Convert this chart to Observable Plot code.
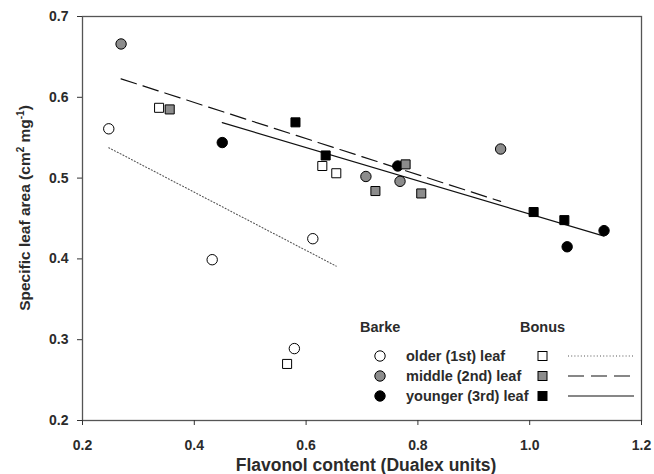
<!DOCTYPE html>
<html>
<head>
<meta charset="utf-8">
<script src="https://cdn.jsdelivr.net/npm/d3@7"></script>
<script src="https://cdn.jsdelivr.net/npm/@observablehq/plot@0.6"></script>
<style>
  body { margin: 0; background: #fff; }
  #chart svg { display: block; }
</style>
</head>
<body>
<div id="chart"></div>
<script>
// Leaf positions and cultivars
const leaves = ["older (1st) leaf", "middle (2nd) leaf", "younger (3rd) leaf"];
const cultivars = ["Barke", "Bonus"];

// Flavonol content (Dualex units) and specific leaf area (cm² mg⁻¹)
const barkeOlderX   = [0.247, 0.432, 0.579, 0.612];
const barkeOlderY   = [0.561, 0.399, 0.289, 0.425];
const bonusOlderX   = [0.337, 0.566, 0.629, 0.654];
const bonusOlderY   = [0.587, 0.270, 0.515, 0.506];
const barkeMiddleX  = [0.269, 0.707, 0.768, 0.948];
const barkeMiddleY  = [0.666, 0.502, 0.496, 0.536];
const bonusMiddleX  = [0.356, 0.724, 0.778, 0.806];
const bonusMiddleY  = [0.585, 0.484, 0.517, 0.481];
const barkeYoungerX = [0.450, 0.764, 1.067, 1.133];
const barkeYoungerY = [0.544, 0.515, 0.415, 0.435];
const bonusYoungerX = [0.581, 0.635, 1.007, 1.062];
const bonusYoungerY = [0.569, 0.528, 0.458, 0.448];

const xTicks = [0.2, 0.4, 0.6, 0.8, 1.0, 1.2];
const yTicks = [0.2, 0.3, 0.4, 0.5, 0.6, 0.7];

const series = [
  ["Barke", leaves[0], barkeOlderX, barkeOlderY],
  ["Bonus", leaves[0], bonusOlderX, bonusOlderY],
  ["Barke", leaves[1], barkeMiddleX, barkeMiddleY],
  ["Bonus", leaves[1], bonusMiddleX, bonusMiddleY],
  ["Barke", leaves[2], barkeYoungerX, barkeYoungerY],
  ["Bonus", leaves[2], bonusYoungerX, bonusYoungerY]
];
const rows = series.flatMap(([cultivar, leaf, xs, ys]) =>
  xs.map((x, i) => ({cultivar, leaf, x, y: ys[i]})));

const leafFill = {[leaves[0]]: "#ffffff", [leaves[1]]: "#8c8c8c", [leaves[2]]: "#000000"};
const leafDash = {[leaves[0]]: "1,2.2", [leaves[1]]: "16,7", [leaves[2]]: null};
const leafLineColor = {[leaves[0]]: "#555", [leaves[1]]: "#111", [leaves[2]]: "#111"};

const font = "'Liberation Sans', Arial, Helvetica, sans-serif";
const ink = "#2b2b2b";

// Least-squares fit per leaf position, pooled over both cultivars
const fits = leaves.map(leaf => Plot.linearRegressionY(rows.filter(d => d.leaf === leaf), {
  x: "x", y: "y", ci: 0,
  stroke: leafLineColor[leaf],
  strokeWidth: leaf === leaves[0] ? 1.1 : 1.2,
  strokeDasharray: leafDash[leaf]
}));

const chart = Plot.plot({
  width: 654,
  height: 474,
  marginLeft: 82,
  marginRight: 13,
  marginTop: 16,
  marginBottom: 54,
  style: {fontFamily: font, fontSize: "14px", fontWeight: "bold", color: ink, background: "#fff"},
  x: {domain: [0.2, 1.2]},
  y: {domain: [0.2, 0.7]},
  marks: [
    Plot.frame({stroke: "#555", strokeWidth: 1.3}),
    Plot.axisX({ticks: xTicks, tickFormat: d3.format(".1f"), tickSize: 5, tickPadding: 15, label: null, stroke: "#333"}),
    Plot.axisY({ticks: yTicks, tickFormat: d3.format(".1f"), tickSize: 5, tickPadding: 9, label: null, stroke: "#333"}),
    ...fits,
    Plot.dot(rows.filter(d => d.cultivar === "Barke"), {
      x: "x", y: "y", r: 5.2, symbol: "circle",
      fill: d => leafFill[d.leaf], stroke: "#000", strokeWidth: 1
    }),
    Plot.dot(rows.filter(d => d.cultivar === "Bonus"), {
      x: "x", y: "y", r: 5.1, symbol: "square",
      fill: d => leafFill[d.leaf], stroke: "#000", strokeWidth: 1
    })
  ]
});

document.getElementById("chart").appendChild(chart);

const svg = d3.select(chart);

// Axis titles
svg.append("text")
  .attr("x", 366).attr("y", 471)
  .attr("text-anchor", "middle")
  .attr("font-family", font).attr("font-size", 17.5).attr("font-weight", "bold")
  .attr("fill", ink)
  .text("Flavonol content (Dualex units)");

const yTitle = svg.append("text")
  .attr("transform", "translate(30,208) rotate(-90)")
  .attr("text-anchor", "middle")
  .attr("font-family", font).attr("font-size", 15.5).attr("font-weight", "bold")
  .attr("fill", ink);
yTitle.append("tspan").text("Specific leaf area (cm");
yTitle.append("tspan").attr("font-size", 10).attr("dy", -6.5).text("2");
yTitle.append("tspan").attr("dy", 6.5).text(" mg");
yTitle.append("tspan").attr("font-size", 10).attr("dy", -6.5).text("-1");
yTitle.append("tspan").attr("dy", 6.5).text(")");

// Legend: Barke circles, labels, Bonus squares, fit line styles
const legend = svg.append("g")
  .attr("text-anchor", "start")
  .attr("font-family", font).attr("font-size", 14.5).attr("font-weight", "bold").attr("fill", ink);
legend.append("text").attr("x", 360).attr("y", 332).text(cultivars[0]);
legend.append("text").attr("x", 520).attr("y", 332).text(cultivars[1]);
leaves.forEach((leaf, i) => {
  const cy = 356 + i * 20;
  legend.append("circle")
    .attr("cx", 380).attr("cy", cy).attr("r", 5.2)
    .attr("fill", leafFill[leaf]).attr("stroke", "#000").attr("stroke-width", 1);
  legend.append("text")
    .attr("x", 406).attr("y", cy + 5).text(leaf);
  legend.append("rect")
    .attr("x", 538).attr("y", cy - 4.5).attr("width", 9).attr("height", 9)
    .attr("fill", leafFill[leaf]).attr("stroke", "#000").attr("stroke-width", 1);
  legend.append("line")
    .attr("x1", 568).attr("x2", 634).attr("y1", cy).attr("y2", cy)
    .attr("stroke", leafLineColor[leaf])
    .attr("stroke-width", i === 0 ? 1.1 : 1.2)
    .attr("stroke-dasharray", leafDash[leaf]);
});
</script>
</body>
</html>
